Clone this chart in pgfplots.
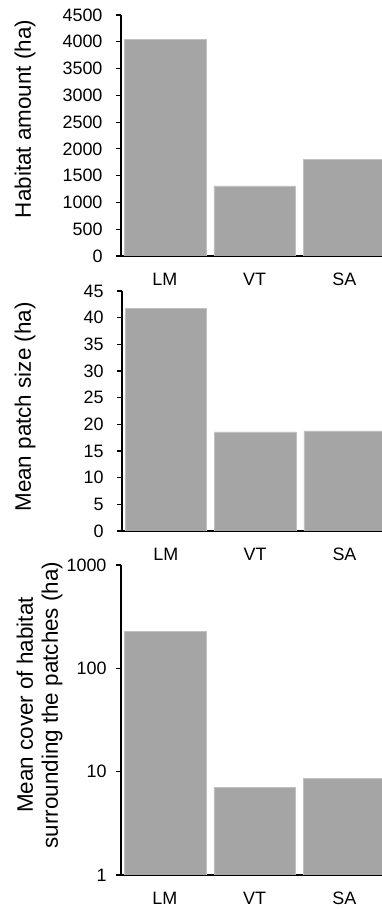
\documentclass[border=0pt]{standalone}
\usepackage{pgfplots}
\pgfplotsset{compat=1.18}
\usepackage{fontspec}
\setmainfont{Liberation Sans}
\definecolor{barg}{RGB}{165,165,165}
\pgfplotsset{
  panel/.style={
    scale only axis,
    axis x line*=bottom, axis y line*=left,
    xmin=-0.49, xmax=2.42,
    xtick={0,1,2}, xticklabels={LM,VT,SA},
    major x tick style={draw=none},
    ytick align=outside, major tick length=5bp,
    axis line style={line width=1.1bp, black},
    every tick/.style={line width=1.1bp, black},
    tick label style={font=\fontsize{18}{20}\selectfont},
    xticklabel style={anchor=north, text height=13bp, text depth=0bp, yshift=-13bp},
    yticklabel style={xshift=-10bp},
    /pgf/number format/assume math mode=true,
    /pgf/number format/1000 sep={},
    enlargelimits=false,
    clip=true,
  },
  barplot/.style={ybar, bar width=0.91, fill=barg, draw=barg!70!white, line width=0.4bp},
}
\begin{document}
\begin{tikzpicture}[x=1bp,y=1bp]
\useasboundingbox (0bp,0bp) rectangle (382bp,909bp);
% Panel 1
\begin{axis}[panel, at={(121bp,653bp)}, anchor=south west, width=261bp, height=241bp,
  ymin=0, ymax=4500, ytick={0,500,...,4500}]
\addplot[barplot] coordinates {(0,4046) (1,1307) (2,1805)};
\end{axis}
\node[rotate=90, font=\fontsize{22.5}{25}\selectfont] at (25bp,790bp) {Habitat amount (ha)};
% Panel 2
\begin{axis}[panel, at={(122bp,378bp)}, anchor=south west, width=260bp, height=240bp,
  ymin=0, ymax=45, ytick={0,5,...,45}]
\addplot[barplot] coordinates {(0,41.76) (1,18.6) (2,18.75)};
\end{axis}
\node[rotate=90, font=\fontsize{22.5}{25}\selectfont] at (25bp,502bp) {Mean patch size (ha)};
% Panel 3
\begin{axis}[panel, at={(121bp,34bp)}, anchor=south west, width=261bp, height=310bp,
  ymode=log, ymin=1, ymax=1000, log origin=infty,
  yticklabel style={xshift=4bp},
  ytick={1,10,100,1000}, yticklabels={1,10,100,1000}, yminorticks=false]
\addplot[barplot] coordinates {(0,229) (1,7.0) (2,8.6)};
\end{axis}
\node[rotate=90, align=center, font=\fontsize{22.5}{25}\selectfont] at (39.5bp,204bp) {Mean cover of habitat\\surrounding the patches (ha)};
\end{tikzpicture}
\end{document}
